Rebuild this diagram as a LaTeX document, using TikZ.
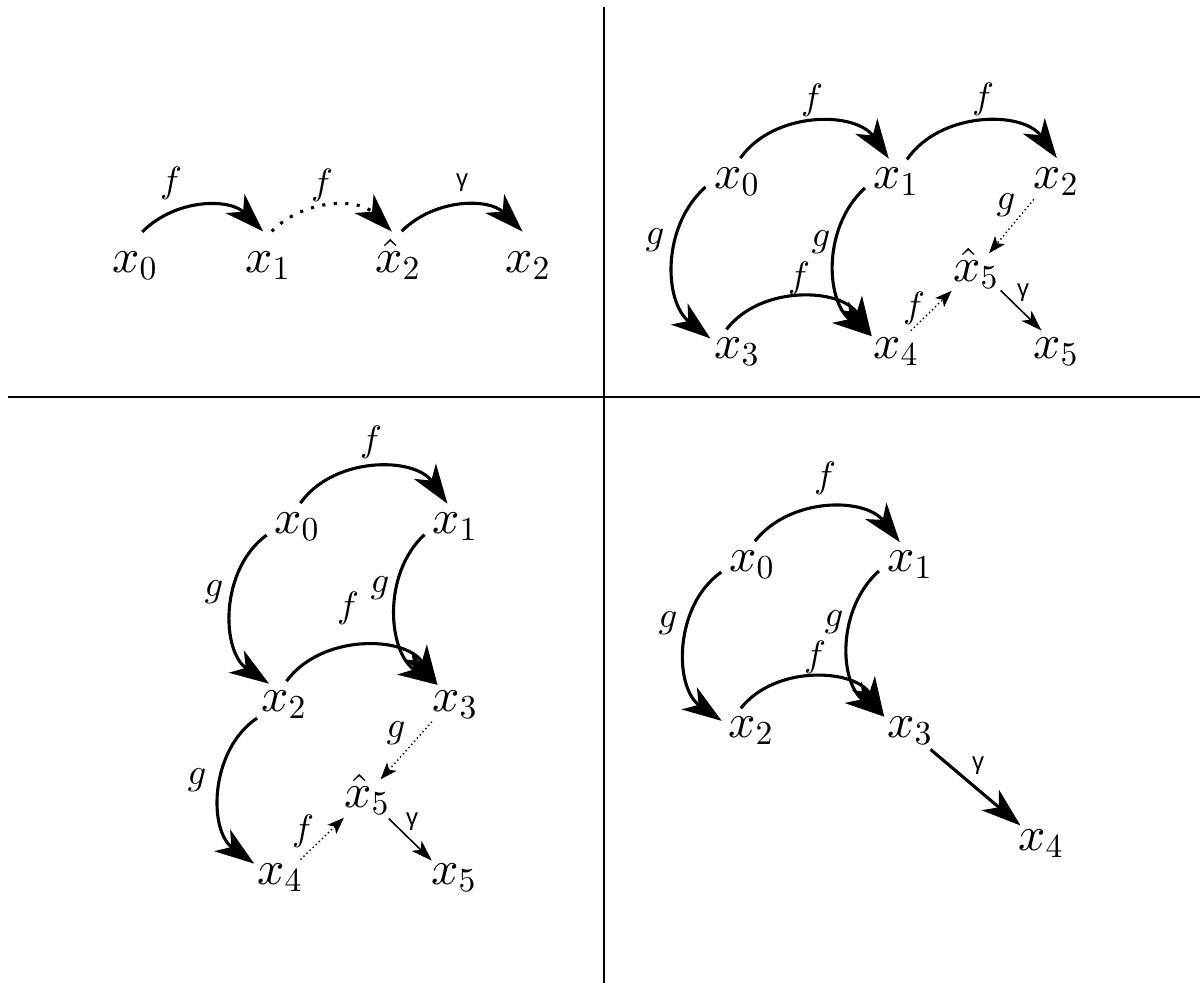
\documentclass[tikz,border=0pt]{standalone}
\usepackage{fontspec}
\newfontfamily\gammafont{Liberation Sans}
\DeclareFontShape{OML}{cmm}{m}{it}{<->cmmi10}{}
\DeclareFontShape{OT1}{cmr}{m}{n}{<->cmr10}{}
\usetikzlibrary{arrows.meta,shapes.geometric}

\tikzset{
  var/.style={ellipse, inner sep=0pt, outer sep=0pt, minimum width=20pt, minimum height=17pt,
    text height=7.3pt, text depth=3pt, font=\fontsize{17}{20}\selectfont},
  tallvar/.style={var, minimum height=24.8pt},
  lbl/.style={inner sep=0pt, font=\fontsize{13}{15}\selectfont},
  glbl/.style={inner sep=0pt, font=\gammafont\fontsize{8.5}{10}\selectfont},
  arr/.style={line width=1.1pt, -{Stealth[length=14pt,width=9.5pt,inset=4pt]}},
  bigdotarr/.style={arr, dash pattern=on 1.1pt off 3pt},
  thinarr/.style={line width=0.55pt, -{Stealth[length=7.5pt,width=5pt,inset=2pt]}},
  dotarr/.style={line width=0.5pt, densely dotted, -{Stealth[length=6pt,width=4.5pt,inset=1.5pt]}}
}

\begin{document}
\begin{tikzpicture}[x=0.3548pt, y=0.3548pt]

\useasboundingbox (0,0) rectangle (1203,-983);

% Panel dividers
\draw[line width=0.7pt] (604,-7) -- (604,-983);
\draw[line width=0.7pt] (8,-397) -- (1200,-397);

% Top-left panel
\node[tallvar] (a0) at (135,-266) {$x_0$};
\node[tallvar] (a1) at (268,-266) {$x_1$};
\node[tallvar] (a2h) at (398,-266) {$\hat{x}_2$};
\node[tallvar] (a2) at (528,-266) {$x_2$};

\draw[arr] (a0.78) to[bend left=45] (a1.98);
\draw[bigdotarr] (a1.84) to[bend left=45] (a2h.100);
\draw[arr] (a2h.84) to[bend left=45] (a2.99);

\node[lbl] (af1) at (171,-183) {$f$};
\node[lbl] (af2) at (322,-185) {$f$};
\node[glbl] (ag) at (462,-183) {γ};

% Top-right panel
\node[var] (b0) at (737,-182) {$x_0$};
\node[var] (b1) at (896,-182) {$x_1$};
\node[var] (b2) at (1056,-182) {$x_2$};
\node[var] (b3) at (737,-352) {$x_3$};
\node[var] (b4) at (896,-352) {$x_4$};
\node[var] (b5h) at (976,-275) {$\hat{x}_5$};
\node[var] (b5) at (1056,-352) {$x_5$};

\draw[arr] (b0.82) to[bend left=55] (b1.107);
\draw[arr] (b1.64) to[bend left=55] (b2.88);
\draw[arr] (b0.189) to[bend right=50] (b3.153);
\draw[arr] (b1.191) to[bend right=50] (b4.147);
\draw[arr] (b3.115) to[bend left=55] (b4.147);
\draw[dotarr] (b2.218) -- (b5h.59);
\draw[dotarr] (b4.55) -- (b5h.213);
\draw[thinarr] (b5h.328) -- (b5.124);

\node[lbl] (bf1) at (812,-100) {$f$};
\node[lbl] (bf2) at (983,-99) {$f$};
\node[lbl] (bg1) at (655,-240) {$g$};
\node[lbl] (bg2) at (821,-242) {$g$};
\node[lbl] (bf3) at (799,-278) {$f$};
\node[lbl] (bg3) at (1006,-205) {$g$};
\node[lbl] (bf4) at (914,-308) {$f$};
\node[glbl] (bgam) at (1023,-293) {γ};

% Bottom-left panel
\node[var] (c0) at (297,-527) {$x_0$};
\node[var] (c1) at (455,-527) {$x_1$};
\node[var] (c2) at (284,-705) {$x_2$};
\node[var] (c3) at (455,-705) {$x_3$};
\node[var] (c5h) at (367,-801) {$\hat{x}_5$};
\node[var] (c4) at (280,-878) {$x_4$};
\node[var] (c5) at (454,-878) {$x_5$};

\draw[arr] (c0.82) to[bend left=55] (c1.108);
\draw[arr] (c0.195) to[bend right=55] (c2.125);
\draw[arr] (c1.194) to[bend right=52] (c3.131);
\draw[arr] (c2.84) to[bend left=55] (c3.131);
\draw[arr] (c2.206) to[bend right=55] (c4.151);
\draw[dotarr] (c3.216) -- (c5h.58);
\draw[dotarr] (c4.42) -- (c5h.216);
\draw[thinarr] (c5h.321) -- (c5.142);

\node[lbl] (cf1) at (371,-442) {$f$};
\node[lbl] (cg1) at (214,-592) {$g$};
\node[lbl] (cg2) at (380,-588) {$g$};
\node[lbl] (cf2) at (348,-608) {$f$};
\node[lbl] (cg3) at (197,-780) {$g$};
\node[lbl] (cg4) at (396,-733) {$g$};
\node[lbl] (cf3) at (303,-831) {$f$};
\node[glbl] (cgam) at (412,-822) {γ};

% Bottom-right panel
\node[var] (d0) at (752,-565) {$x_0$};
\node[var] (d1) at (910,-565) {$x_1$};
\node[var] (d2) at (751,-731) {$x_2$};
\node[var] (d3) at (910,-731) {$x_3$};
\node[var] (d4) at (1041,-844) {$x_4$};

\draw[arr] (d0.83) to[bend left=52] (d1.114);
\draw[arr] (d0.193) to[bend right=55] (d2.161);
\draw[arr] (d1.191) to[bend right=50] (d3.151);
\draw[arr] (d2.114) to[bend left=55] (d3.151);
\draw[arr] (d3.318) -- (d4.138);

\node[lbl] (df1) at (825,-478) {$f$};
\node[lbl] (dg1) at (668,-623) {$g$};
\node[lbl] (dg2) at (834,-622) {$g$};
\node[lbl] (df2) at (815,-657) {$f$};
\node[glbl] (dgam) at (978,-766) {γ};

\end{tikzpicture}
\end{document}
